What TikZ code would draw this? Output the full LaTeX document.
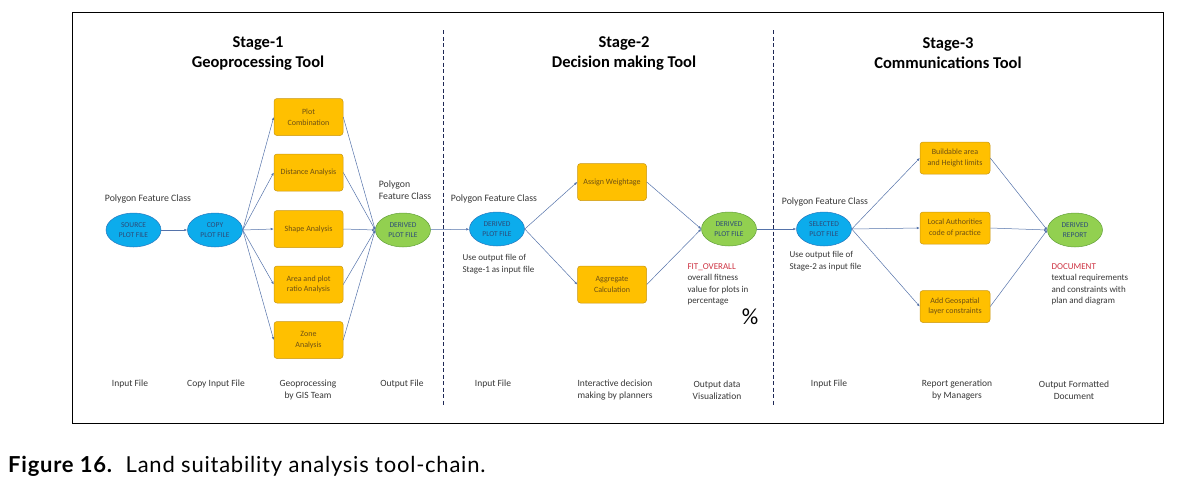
\documentclass[tikz,border=0pt]{standalone}
\usepackage{fontspec}
\setmainfont{Carlito}
\newfontfamily\captionfont[LetterSpace=3.5]{Lato}
\usepackage{tikz}
\definecolor{cblue}{RGB}{12, 172, 236}
\definecolor{cblueline}{RGB}{40, 120, 190}
\definecolor{cgreen}{RGB}{146, 208, 80}
\definecolor{cgreenline}{RGB}{100, 160, 60}
\definecolor{corange}{RGB}{255, 192, 0}
\definecolor{corangeline}{RGB}{200, 150, 20}
\definecolor{cellipsetext}{RGB}{45, 75, 120}
\definecolor{cboxtext}{RGB}{110, 80, 20}
\definecolor{carrow}{RGB}{85, 115, 170}
\definecolor{cred}{RGB}{205, 50, 65}
\definecolor{cdash}{RGB}{30, 40, 85}
\definecolor{clabel}{RGB}{55, 55, 55}
\usetikzlibrary{positioning}
\usetikzlibrary{shapes.geometric}
\usetikzlibrary{arrows.meta}

\begin{document}
\begin{tikzpicture}[x=1pt, y=1pt,
  plotfile/.style={ellipse, minimum width=55pt, minimum height=34pt, inner sep=0pt, align=center, line width=0.5pt, text=cellipsetext, font=\fontsize{7.5}{9.5}\selectfont},
  inplot/.style={plotfile, fill=cblue, draw=cblueline},
  outplot/.style={plotfile, fill=cgreen, draw=cgreenline},
  toolbox/.style={rectangle, rounded corners=3pt, minimum width=69pt, minimum height=37pt, inner sep=1pt, align=center, fill=corange, draw=corangeline, line width=0.5pt, text=cboxtext, font=\fontsize{8}{10.5}\selectfont},
  stagetitle/.style={align=center, font=\bfseries\fontsize{16.5}{20}\selectfont},
  smalllabel/.style={text=clabel, font=\fontsize{9.8}{12}\selectfont},
  steplabel/.style={align=center, text=clabel, font=\fontsize{9.5}{12}\selectfont},
  notelabel/.style={align=left, text=clabel, font=\fontsize{9}{11.5}\selectfont},
  flow/.style={draw=carrow, line width=0.5pt, -{Latex[length=3pt, width=2.5pt]}},
  stagesep/.style={draw=cdash, line width=1pt, dash pattern=on 4pt off 2.5pt}
]
\useasboundingbox (0,0) rectangle (1179,-493);
\draw [line width=0.8pt] (72,-12) rectangle (1163,-423);

% stage separators
\draw [stagesep] (443,-30) -- (443,-405);
\draw [stagesep] (773,-30) -- (773,-405);

% titles
\node (t1) [stagetitle] at (258,-53) {Stage-1\\Geoprocessing Tool};
\node (t2) [stagetitle] at (624,-53) {Stage-2\\Decision making Tool};
\node (t3) [stagetitle] at (948,-53) {Stage-3\\Communications Tool};

% stage 1
\node (source) [inplot] at (133.5,-230) {SOURCE\\PLOT FILE};
\node (copy) [inplot] at (215,-230) {COPY\\PLOT FILE};
\node (plotcomb) [toolbox] at (308.5,-117) {Plot\\Combination};
\node (distance) [toolbox] at (308.5,-172.5) {Distance Analysis};
\node (shape) [toolbox] at (308.5,-229) {Shape Analysis};
\node (arearatio) [toolbox] at (308.5,-284.5) {Area and plot\\ratio Analysis};
\node (zone) [toolbox] at (308.5,-340) {Zone\\Analysis};
\node (derived1) [outplot] at (403,-230) {DERIVED\\PLOT FILE};
\node (srcclass) [smalllabel] at (148,-199) {Polygon Feature Class};
\node (outclass) [smalllabel, align=left] at (405,-190) {Polygon\\Feature Class};
\node (in1) [steplabel] at (130,-384) {Input File};
\node (copy1) [steplabel] at (216,-384) {Copy Input File};
\node (geo1) [steplabel] at (308,-390) {Geoprocessing\\by GIS Team};
\node (out1) [steplabel] at (402,-384) {Output File};
\draw [flow] (source) -- (copy);
\foreach \b in {plotcomb, distance, shape, arearatio, zone} {
  \draw [flow] (copy.east) -- (\b.west);
  \draw [flow] (\b.east) -- (derived1.west);
}

% stage 2
\node (derived2) [inplot] at (497,-229) {DERIVED\\PLOT FILE};
\node (weight) [toolbox] at (612,-182) {Assign Weightage};
\node (aggregate) [toolbox] at (612,-284.5) {Aggregate\\Calculation};
\node (fitness) [outplot] at (729,-229) {DERIVED\\PLOT FILE};
\node (inclass2) [smalllabel] at (494,-199) {Polygon Feature Class};
\node (use1) [notelabel, anchor=north west] at (459,-251) {Use output file of\\Stage-1 as input file};
\node (fitnote) [notelabel, anchor=north west] at (684,-260) {\textcolor{cred}{FIT\_OVERALL}\\overall fitness\\value for plots in\\percentage};
\node (percent) [font=\fontsize{23}{25}\selectfont] at (750,-317) {\%};
\node (in2) [steplabel] at (493,-384) {Input File};
\node (plan2) [steplabel] at (615,-390) {Interactive decision\\making by planners};
\node (out2) [steplabel] at (717,-390) {Output data\\Visualization};
\draw [flow] (derived1) -- (derived2);
\draw [flow] (derived2.east) -- (weight.west);
\draw [flow] (derived2.east) -- (aggregate.west);
\draw [flow] (weight.east) -- (fitness.west);
\draw [flow] (aggregate.east) -- (fitness.west);

% stage 3
\node (selected) [inplot] at (824,-229) {SELECTED\\PLOT FILE};
\node (height) [toolbox, minimum height=32pt, minimum width=70pt] at (955,-158) {Buildable area\\and Height limits};
\node (practice) [toolbox, minimum height=32pt, minimum width=70pt] at (955,-228) {Local Authorities\\code of practice};
\node (geolayer) [toolbox, minimum height=32pt, minimum width=70pt] at (955,-306.5) {Add Geospatial\\layer constraints};
\node (report) [outplot] at (1075,-230) {DERIVED\\REPORT};
\node (inclass3) [smalllabel] at (825,-202) {Polygon Feature Class};
\node (use2) [notelabel, anchor=north west] at (786,-248) {Use output file of\\Stage-2 as input file};
\node (docnote) [notelabel, anchor=north west] at (1048,-260) {\textcolor{cred}{DOCUMENT}\\textual requirements\\and constraints with\\plan and diagram};
\node (in3) [steplabel] at (829,-384) {Input File};
\node (rep3) [steplabel] at (957,-390) {Report generation\\by Managers};
\node (out3) [steplabel] at (1074,-390) {Output Formatted\\Document};
\draw [flow] (fitness) -- (selected);
\foreach \b in {height, practice, geolayer} {
  \draw [flow] (selected.east) -- (\b.west);
  \draw [flow] (\b.east) -- (report.west);
}

% caption
\node (caption) [anchor=base west, inner sep=0pt, font=\captionfont\fontsize{22}{24}\selectfont] at (8,-472) {\textbf{Figure 16.}\ \ Land suitability analysis tool-chain.};
\end{tikzpicture}
\end{document}
